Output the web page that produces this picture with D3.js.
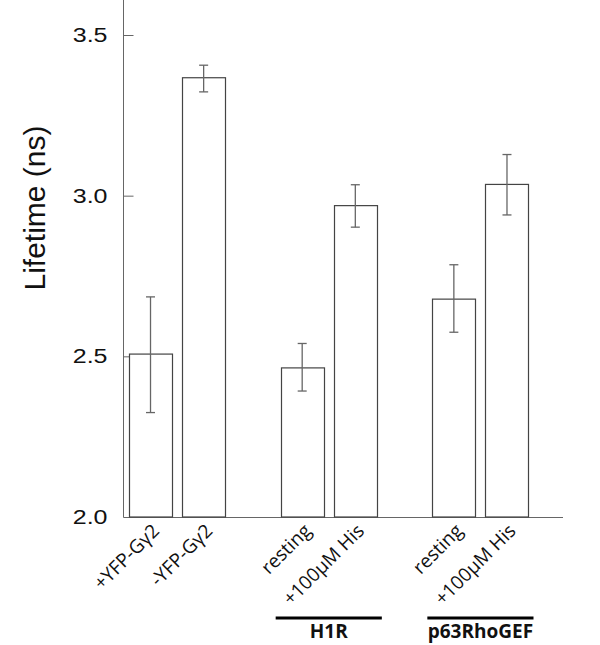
<!DOCTYPE html>
<html>
<head>
<meta charset="utf-8">
<script src="https://cdn.jsdelivr.net/npm/d3@7"></script>
<style>
  body { margin: 0; background: #fff; }
  svg { display: block; }
</style>
</head>
<body>
<script>
// Chart size
let width = 600;
let height = 645;

// Data
var groups = ['control', 'H1R', 'p63RhoGEF'];
var groupLabels = ['', 'H1R', 'p63RhoGEF'];
var barLabels = ['+YFP-G\u03b32', '-YFP-G\u03b32', 'resting', '+100\u03bcM His', 'resting', '+100\u03bcM His'];
var barGroup = [0, 0, 1, 1, 2, 2];
var lifetime = [2.507, 3.367, 2.464, 2.969, 2.678, 3.035];
var errHigh = [2.685, 3.406, 2.540, 3.034, 2.785, 3.128];
var errLow = [2.325, 3.323, 2.392, 2.902, 2.575, 2.940];
var yTicks = [2.0, 2.5, 3.0, 3.5];

var svg = d3.select('body').append('svg')
  .attr('width', width)
  .attr('height', height);

// Scales
var y = d3.scaleLinear().domain([2.0, 3.5]).range([517, 35]);
var x0 = d3.scaleBand().domain(groups).range([129, 528.5]).paddingInner(0.366).paddingOuter(0);
var x1 = d3.scaleBand().domain([0, 1]).range([0, x0.bandwidth()]).paddingInner(0.19).paddingOuter(0);

function barX(i) {
  return x0(groups[barGroup[i]]) + x1(i % 2);
}

// Y axis, ticks pointing into the plot
var yAxis = svg.append('g')
  .attr('transform', 'translate(123.5,0)')
  .call(d3.axisLeft(y).tickValues(yTicks).tickFormat(d3.format('.1f'))
    .tickSizeInner(-10).tickSizeOuter(0).tickPadding(16));
yAxis.select('.domain').remove();
yAxis.selectAll('line').attr('stroke', '#666');
// labels in the picture look stretched sideways
yAxis.selectAll('.tick text')
  .attr('font-family', 'Liberation Sans, Arial, sans-serif')
  .attr('font-size', 20)
  .attr('fill', '#111')
  .attr('transform', 'translate(-16,0) scale(1.25,1) translate(16,0)');

svg.append('line')
  .attr('x1', 123.5).attr('x2', 123.5)
  .attr('y1', 0).attr('y2', y(2.0))
  .attr('stroke', '#666');

svg.append('line')
  .attr('x1', 123.5).attr('x2', 563)
  .attr('y1', y(2.0) + 0.5).attr('y2', y(2.0) + 0.5)
  .attr('stroke', '#666');

// Axis title
svg.append('text')
  .attr('transform', 'translate(34,208) rotate(-90)')
  .attr('text-anchor', 'middle')
  .attr('dominant-baseline', 'central')
  .attr('font-family', 'Liberation Sans, Arial, sans-serif')
  .attr('font-size', 30)
  .attr('fill', '#111')
  .text('Lifetime (ns)');

// Bars
svg.selectAll('rect.bar')
  .data(lifetime)
  .enter()
  .append('rect')
  .attr('class', 'bar')
  .attr('x', function(d, i) { return Math.round(barX(i)) + 0.5; })
  .attr('y', function(d) { return y(d); })
  .attr('width', Math.round(x1.bandwidth()))
  .attr('height', function(d) { return y(2.0) - y(d); })
  .attr('fill', '#fff')
  .attr('stroke', '#444')
  .attr('stroke-width', 1.2);

// Error bars
var errs = svg.selectAll('g.err')
  .data(lifetime)
  .enter()
  .append('g')
  .attr('class', 'err')
  .attr('stroke', '#666')
  .attr('stroke-width', 1.3);

errs.append('line')
  .attr('x1', function(d, i) { return barX(i) + x1.bandwidth() / 2; })
  .attr('x2', function(d, i) { return barX(i) + x1.bandwidth() / 2; })
  .attr('y1', function(d, i) { return y(errHigh[i]); })
  .attr('y2', function(d, i) { return y(errLow[i]); });

errs.append('line')
  .attr('x1', function(d, i) { return barX(i) + x1.bandwidth() / 2 - 4.5; })
  .attr('x2', function(d, i) { return barX(i) + x1.bandwidth() / 2 + 4.5; })
  .attr('y1', function(d, i) { return y(errHigh[i]); })
  .attr('y2', function(d, i) { return y(errHigh[i]); });

errs.append('line')
  .attr('x1', function(d, i) { return barX(i) + x1.bandwidth() / 2 - 4.5; })
  .attr('x2', function(d, i) { return barX(i) + x1.bandwidth() / 2 + 4.5; })
  .attr('y1', function(d, i) { return y(errLow[i]); })
  .attr('y2', function(d, i) { return y(errLow[i]); });

// Rotated bar labels
svg.selectAll('text.barlabel')
  .data(barLabels)
  .enter()
  .append('text')
  .attr('class', 'barlabel')
  .attr('transform', function(d, i) {
    var cx = barX(i) + x1.bandwidth() / 2 + 10;
    return 'translate(' + cx + ',' + 532 + ') rotate(-45)';
  })
  .attr('text-anchor', 'end')
  .attr('font-family', 'Open Sans, DejaVu Sans, sans-serif')
  .attr('font-size', 19)
  .attr('fill', '#111')
  .text(function(d) { return d; });

// Group underlines and names
var grp = svg.selectAll('g.grp')
  .data(groups.slice(1))
  .enter()
  .append('g')
  .attr('class', 'grp');

grp.append('line')
  .attr('x1', function(d) { return x0(d) - 5; })
  .attr('x2', function(d) { return x0(d) + x0.bandwidth() + 5; })
  .attr('y1', 618)
  .attr('y2', 618)
  .attr('stroke', '#000')
  .attr('stroke-width', 3);

grp.append('text')
  .attr('x', function(d) { return x0(d) + x0.bandwidth() / 2; })
  .attr('y', 638)
  .attr('text-anchor', 'middle')
  .attr('font-family', 'Open Sans, DejaVu Sans, sans-serif')
  .attr('font-weight', 'bold')
  .attr('font-size', 19)
  .attr('fill', '#111')
  .text(function(d, i) { return groupLabels[i + 1]; });
</script>
</body>
</html>
